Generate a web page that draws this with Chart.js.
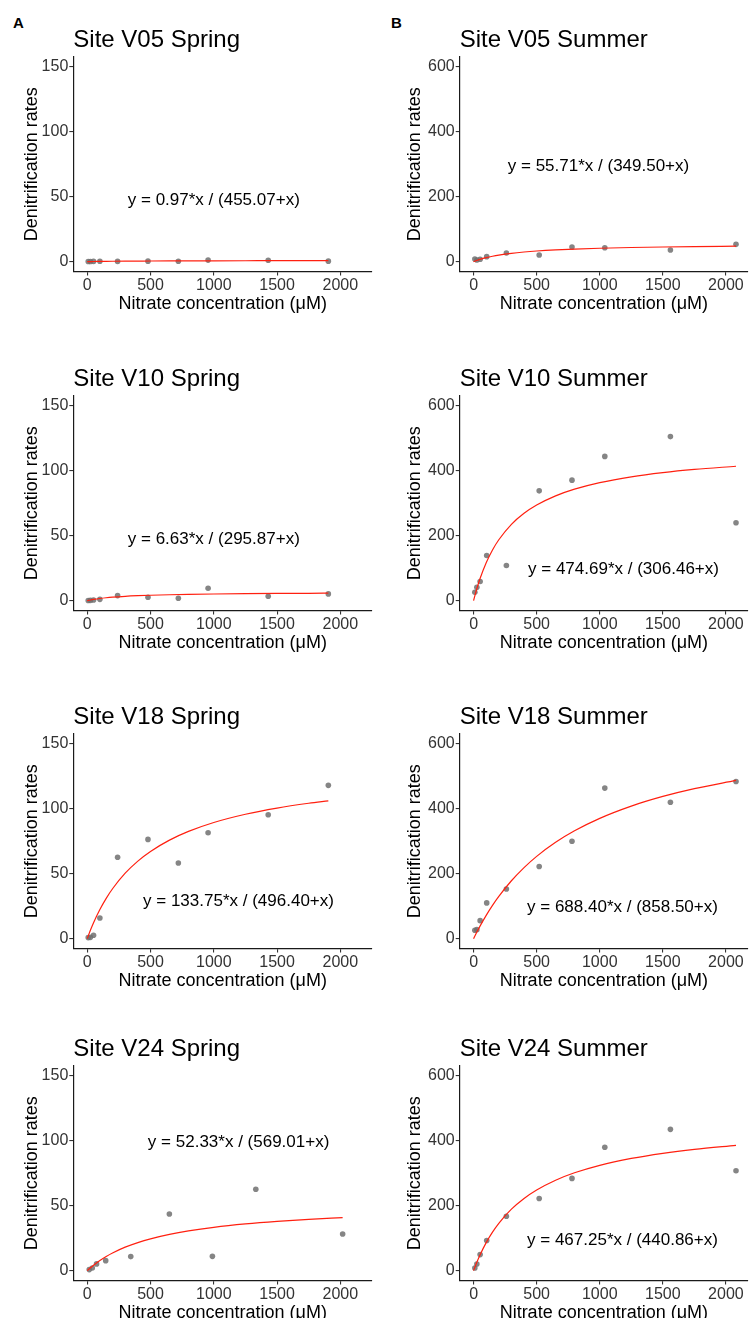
<!DOCTYPE html>
<html>
<head>
<meta charset="utf-8">
<script src="https://cdn.jsdelivr.net/npm/chart.js@4.4.1/dist/chart.umd.min.js"></script>
<style>
  html, body { margin: 0; padding: 0; background: #fff; overflow: hidden; }
  #wrap { position: relative; width: 755px; height: 1318px; overflow: hidden; background: #fff; }
  canvas { position: absolute; }
  .tag { position: absolute; font: bold 15px "Liberation Sans", Arial, sans-serif; line-height: 17px; color: #000; }
</style>
</head>
<body>
<div id="wrap">
  <div class="tag" style="left:13px;top:14px;">A</div>
  <div class="tag" style="left:391px;top:14px;">B</div>
</div>
<script>
// ---------- data ----------
// nitrate concentrations (µM) of the measured points
const springX    = [8, 25, 50, 100, 240, 480, 720, 955, 1430, 1905];
const v24SpringX = [16, 40, 74, 146, 344, 649, 989, 1332, 2018];
const summerX    = [10, 26, 52, 104, 260, 520, 780, 1040, 1560, 2080];

// denitrification rates of the measured points
const v05SpringRate = [0.1, 0.1, 0.2, 0.3, 0.2, 0.4, 0.3, 1.2, 1.1, 0.4];
const v10SpringRate = [0.1, 0.2, 0.5, 1.0, 3.9, 2.6, 1.8, 9.6, 3.4, 5.2];
const v18SpringRate = [0.8, 1.0, 2.6, 15.9, 62.6, 76.4, 58.2, 81.5, 95.4, 118];
const v24SpringRate = [0.8, 2.1, 5.2, 7.7, 10.8, 43.6, 11.0, 62.6, 28.2];
const v05SummerRate = [8.2, 5.1, 7.2, 15.4, 26.7, 20.5, 45, 43, 36, 53.3];
const v10SummerRate = [25.8, 41, 59, 139, 108, 338, 371, 444, 505, 240];
const v18SummerRate = [25.7, 27.7, 55.5, 110, 153, 222, 300, 463.5, 420, 484];
const v24SummerRate = [8.2, 20.6, 49.4, 92.6, 167.7, 222, 284, 380, 435, 307.6];

// fitted red curves
const fitXSpring    = [0, 25, 50, 100, 150, 200, 300, 400, 500, 650, 800, 1000, 1250, 1500, 1750, 1905];
const fitXV24Spring = [0, 25, 50, 100, 150, 200, 300, 400, 500, 650, 800, 1000, 1250, 1500, 1750, 2018];
const fitXSummer    = [0, 25, 50, 100, 150, 200, 300, 400, 500, 650, 800, 1000, 1250, 1500, 1750, 2080];

const v05SpringFit = [0, 0.05, 0.10, 0.17, 0.24, 0.30, 0.39, 0.45, 0.51, 0.57, 0.62, 0.67, 0.71, 0.74, 0.77, 0.78];
const v10SpringFit = [0, 0.52, 0.96, 1.68, 2.23, 2.67, 3.34, 3.81, 4.17, 4.56, 4.84, 5.12, 5.36, 5.54, 5.67, 5.74];
const v18SpringFit = [0, 6.41, 12.24, 22.43, 31.04, 38.41, 50.38, 59.68, 67.12, 75.84, 82.54, 89.38, 95.73, 100.49, 104.19, 106.10];
const v24SpringFit = [0, 2.20, 4.23, 7.82, 10.92, 13.61, 18.07, 21.60, 24.48, 27.90, 30.58, 33.35, 35.96, 37.94, 39.49, 40.82];
const v05SummerFit = [0, 3.72, 6.97, 12.39, 16.73, 20.28, 25.73, 29.73, 32.79, 36.23, 38.77, 41.28, 43.54, 45.18, 46.44, 47.70];
const v10SummerFit = [0, 35.80, 66.58, 116.79, 155.99, 187.46, 234.82, 268.77, 294.30, 322.59, 343.21, 363.34, 381.23, 394.16, 403.95, 413.74];
const v18SummerFit = [0, 19.48, 37.89, 71.82, 102.39, 130.07, 178.27, 218.80, 253.37, 296.63, 332.06, 370.41, 408.11, 437.82, 461.83, 487.28];
const v24SummerFit = [0, 25.07, 47.60, 86.39, 118.62, 145.82, 189.21, 222.27, 248.31, 278.42, 301.24, 324.29, 345.42, 361.12, 373.22, 385.54];

// titles, equation labels and ticks
const panelTitles = ['Site V05 Spring', 'Site V05 Summer', 'Site V10 Spring', 'Site V10 Summer',
                     'Site V18 Spring', 'Site V18 Summer', 'Site V24 Spring', 'Site V24 Summer'];
const equations = ['y = 0.97*x / (455.07+x)', 'y = 55.71*x / (349.50+x)',
                   'y = 6.63*x / (295.87+x)', 'y = 474.69*x / (306.46+x)',
                   'y = 133.75*x / (496.40+x)', 'y = 688.40*x / (858.50+x)',
                   'y = 52.33*x / (569.01+x)', 'y = 467.25*x / (440.86+x)'];
const xTicks = [0, 500, 1000, 1500, 2000];
const yTicksSpring = [0, 50, 100, 150];
const yTicksSummer = [0, 200, 400, 600];
const xTitle = 'Nitrate concentration (μM)';
const yTitle = 'Denitrification rates';

// ---------- panel assembly ----------
const panels = [
  { x: springX,    y: v05SpringRate, fx: fitXSpring,    fy: v05SpringFit, summer: false, eqAt: [1000, 47.5] },
  { x: summerX,    y: v05SummerRate, fx: fitXSummer,    fy: v05SummerFit, summer: true,  eqAt: [990, 292] },
  { x: springX,    y: v10SpringRate, fx: fitXSpring,    fy: v10SpringFit, summer: false, eqAt: [1000, 47.5] },
  { x: summerX,    y: v10SummerRate, fx: fitXSummer,    fy: v10SummerFit, summer: true,  eqAt: [1188, 98] },
  { x: springX,    y: v18SpringRate, fx: fitXSpring,    fy: v18SpringFit, summer: false, eqAt: [1195, 28.7] },
  { x: summerX,    y: v18SummerRate, fx: fitXSummer,    fy: v18SummerFit, summer: true,  eqAt: [1180, 95] },
  { x: v24SpringX, y: v24SpringRate, fx: fitXV24Spring, fy: v24SpringFit, summer: false, eqAt: [1196, 99] },
  { x: summerX,    y: v24SummerRate, fx: fitXSummer,    fy: v24SummerFit, summer: true,  eqAt: [1180, 93] }
];

const FONT = '"Liberation Sans", Arial, Helvetica, sans-serif';
const colLeft = [0, 378], colWidth = [378, 377], yAxisW = [73.3, 81.7], padRight = [6, 7];
const yTitlePad = [21, 26];
const rowTop = [0, 339, 677, 1009];
const canvasH = 320;

const equationPlugin = {
  id: 'equationLabel',
  afterDatasetsDraw(chart, args, opts) {
    const ctx = chart.ctx;
    const xs = chart.scales.x, ys = chart.scales.y;
    ctx.save();
    ctx.font = '17px ' + FONT;
    ctx.fillStyle = '#000';
    ctx.textAlign = 'center';
    ctx.textBaseline = 'middle';
    ctx.fillText(opts.text, xs.getPixelForValue(opts.at[0]), ys.getPixelForValue(opts.at[1]));
    ctx.restore();
  }
};

const wrap = document.getElementById('wrap');
panels.forEach((p, i) => {
  const col = i % 2, row = Math.floor(i / 2);
  const cv = document.createElement('canvas');
  cv.width = colWidth[col];
  cv.height = canvasH;
  cv.style.left = colLeft[col] + 'px';
  cv.style.top = rowTop[row] + 'px';
  cv.style.width = colWidth[col] + 'px';
  cv.style.height = canvasH + 'px';
  wrap.appendChild(cv);

  const yTicks = p.summer ? yTicksSummer : yTicksSpring;
  const yMax = yTicks[yTicks.length - 1];
  const yPad = yMax * 0.05;

  new Chart(cv.getContext('2d'), {
    type: 'scatter',
    data: {
      datasets: [
        {
          type: 'line',
          data: p.fx.map((v, k) => ({ x: v, y: p.fy[k] })),
          borderColor: '#ff2010',
          borderWidth: 1.2,
          pointRadius: 0,
          fill: false,
          cubicInterpolationMode: 'monotone',
          order: 0
        },
        {
          type: 'scatter',
          data: p.x.map((v, k) => ({ x: v, y: p.y[k] })),
          backgroundColor: 'rgba(112,112,112,0.85)',
          borderWidth: 0,
          pointRadius: 2.8,
          order: 1
        }
      ]
    },
    options: {
      responsive: false,
      animation: false,
      events: [],
      layout: { padding: { top: 0, left: 0, right: padRight[col], bottom: 3.6 } },
      plugins: {
        legend: { display: false },
        tooltip: { enabled: false },
        title: {
          display: true,
          text: panelTitles[i],
          align: 'start',
          fullSize: false,
          color: '#000',
          font: { family: FONT, size: 24, weight: 'normal', lineHeight: 1.2 },
          padding: { top: 25.6, bottom: 2.6 }
        },
        equationLabel: { text: equations[i], at: p.eqAt }
      },
      scales: {
        x: {
          type: 'linear',
          min: -110,
          max: col === 0 ? 2250 : 2175,
          afterBuildTicks: (s) => { s.ticks = xTicks.map(v => ({ value: v })); },
          afterFit: (s) => { s.height = 45; },
          border: { display: true, color: '#1a1a1a', width: 1.2 },
          grid: { display: true, drawOnChartArea: false, drawTicks: true, tickLength: 4, color: '#333', lineWidth: 1.1 },
          ticks: { color: '#333', padding: 1, font: { family: FONT, size: 16 }, maxRotation: 0, autoSkip: false,
                   callback: (v) => String(v) },
          title: { display: true, text: xTitle, color: '#000', font: { family: FONT, size: 18 }, padding: { top: 0, bottom: 2 } }
        },
        y: {
          type: 'linear',
          min: -yPad,
          max: yMax + yPad,
          afterBuildTicks: (s) => { s.ticks = yTicks.map(v => ({ value: v })); },
          afterFit: (s) => { s.width = yAxisW[col]; },
          border: { display: true, color: '#1a1a1a', width: 1.2 },
          grid: { display: true, drawOnChartArea: false, drawTicks: true, tickLength: 4, color: '#333', lineWidth: 1.1 },
          ticks: { color: '#333', padding: 1, font: { family: FONT, size: 16 }, autoSkip: false,
                   callback: (v) => String(v) },
          title: { display: true, text: yTitle, color: '#000', font: { family: FONT, size: 18 }, padding: { top: yTitlePad[col], bottom: 0 } }
        }
      }
    },
    plugins: [equationPlugin]
  });
});
</script>
</body>
</html>
